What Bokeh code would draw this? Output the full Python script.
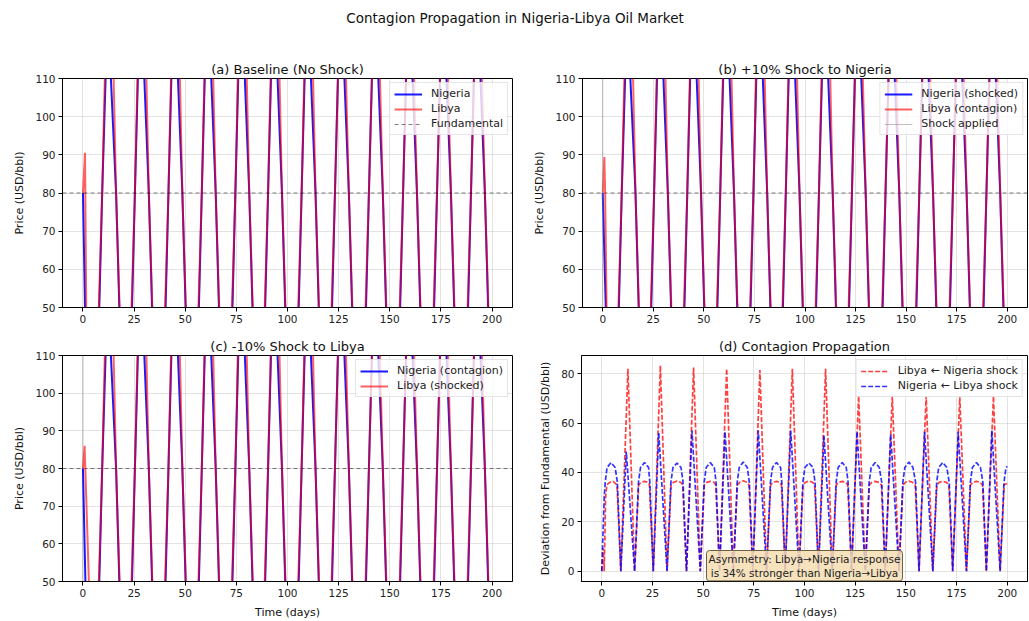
import numpy as np
from bokeh.plotting import figure
from bokeh.layouts import column, row
from bokeh.models import Range1d, Label, FixedTicker
from bokeh.core.properties import value
from bokeh.embed import file_html
from bokeh.resources import INLINE

FONT = "DejaVu Sans"
FUNDAMENTAL = 80.0
SHOCK_DAY = 0.0
X_MIN, X_MAX = -10, 210
P_MIN, P_MAX = 50, 110

main_title = "Contagion Propagation in Nigeria-Libya Oil Market"
panel_titles = ["(a) Baseline (No Shock)", "(b) +10% Shock to Nigeria",
                "(c) -10% Shock to Libya", "(d) Contagion Propagation"]
x_ticks = [0, 25, 50, 75, 100, 125, 150, 175, 200]
price_ticks = [50, 60, 70, 80, 90, 100, 110]
dev_ticks = [0, 20, 40, 60, 80]

# ---- price path vertices (days, USD/bbl), shared cycles ----
cycle_days_libya = [
    7.5, 9.4, 12.9, 16.2, 18.2, 19.4, 21.1, 22.9,
    23.5, 25.4, 28.9, 32.2, 34.2, 35.4, 37.1, 38.9,
    39.9, 41.8, 45.3, 48.6, 50.6, 51.8, 53.5, 55.3,
    56.2, 58.1, 61.6, 64.9, 66.9, 68.1, 69.8, 71.6,
    72.6, 74.5, 78.0, 81.3, 83.3, 84.5, 86.2, 88.0,
    88.6, 90.5, 94.0, 97.3, 99.3, 100.5, 102.2, 104.0,
    105.0, 106.9, 110.4, 113.7, 115.7, 116.9, 118.6, 120.4,
    121.3, 123.2, 126.7, 130.0, 132.0, 133.2, 134.9, 136.7,
    137.9, 139.8, 143.3, 146.6, 148.6, 149.8, 151.5, 153.3,
    154.6, 156.5, 160.0, 163.3, 165.3, 166.5, 168.2, 170.0,
    171.2, 173.1, 176.6, 179.9, 181.9, 183.1, 184.8, 186.6,
    187.8, 189.7, 193.2, 196.5, 198.5, 200.0]
cycle_price_libya = [
    45, 80, 162.0, 80, 45, 44, 43.6, 44,
    45, 80, 163.3, 80, 45, 44, 43.5, 44,
    45, 80, 162.5, 80, 45, 44, 43.6, 44,
    45, 80, 162.0, 80, 45, 44, 43.4, 44,
    45, 80, 161.5, 80, 45, 44, 43.6, 44,
    45, 80, 162.0, 80, 45, 44, 43.5, 44,
    45, 80, 162.0, 80, 45, 44, 43.6, 44,
    45, 80, 151.0, 80, 45, 44, 43.6, 44,
    45, 80, 151.0, 80, 45, 44, 43.5, 44,
    45, 80, 151.0, 80, 45, 44, 43.6, 44,
    45, 80, 150.5, 80, 45, 44, 43.6, 44,
    45, 80, 151.0, 80, 45, 44.5]
cycle_days_nigeria = [
    7.7, 9.4, 12.1, 16.2, 18.1, 19.1, 21.1, 23.1,
    23.7, 25.4, 28.1, 32.2, 34.1, 35.1, 37.1, 39.1,
    40.1, 41.8, 44.5, 48.6, 50.5, 51.5, 53.5, 55.5,
    56.4, 58.1, 60.8, 64.9, 66.8, 67.8, 69.8, 71.8,
    72.8, 74.5, 77.2, 81.3, 83.2, 84.2, 86.2, 88.2,
    88.8, 90.5, 93.2, 97.3, 99.2, 100.2, 102.2, 104.2,
    105.2, 106.9, 109.6, 113.7, 115.6, 116.6, 118.6, 120.6,
    121.5, 123.2, 125.9, 130.0, 131.9, 132.9, 134.9, 136.9,
    138.1, 139.8, 142.5, 146.6, 148.5, 149.5, 151.5, 153.5,
    154.8, 156.5, 159.2, 163.3, 165.2, 166.2, 168.2, 170.2,
    171.4, 173.1, 175.8, 179.9, 181.8, 182.8, 184.8, 186.8,
    188.0, 189.7, 192.4, 196.5, 198.4, 199.4, 200.0]
cycle_price_nigeria = [
    44, 80, 128.5, 80, 44, 38, 36, 38,
    44, 80, 136.0, 80, 44, 38, 36.2, 38,
    44, 80, 137.0, 80, 44, 38, 36, 38,
    44, 80, 136.5, 80, 44, 38, 35.8, 38,
    44, 80, 137.0, 80, 44, 38, 36, 38,
    44, 80, 137.0, 80, 44, 38, 36.2, 38,
    44, 80, 135.0, 80, 44, 38, 36, 38,
    44, 80, 136.5, 80, 44, 38, 36, 38,
    44, 80, 135.5, 80, 44, 38, 35.8, 38,
    44, 80, 136.5, 80, 44, 38, 36, 38,
    44, 80, 136.5, 80, 44, 38, 36, 38,
    44, 80, 137.0, 80, 44, 38, 37.5]

# ---- first days of each scenario (initial response) ----
base_nigeria_days = [0.0, 1.0, 1.6, 2.6, 4.6, 6.6]
base_nigeria_price = [80, 50, 44, 38, 36, 38]
base_libya_days = [0.0, 1.0, 1.6, 2.3, 4.0, 5.6]
base_libya_price = [80, 90.5, 50, 45, 44, 43.6]

shockN_nigeria_days = [0.0, 1.5, 2.0, 2.9, 4.8, 6.6]
shockN_nigeria_price = [80, 50, 44, 38, 36, 38]
shockN_libya_days = [0.0, 0.8, 1.2, 1.9, 2.5, 4.0, 5.6]
shockN_libya_price = [80, 89.4, 80, 50, 45, 44, 43.6]

shockL_nigeria_days = [0.0, 1.2, 1.7, 2.6, 4.6, 6.6]
shockL_nigeria_price = [80, 50, 44, 38, 36, 38]
shockL_libya_days = [0.0, 0.8, 2.9, 3.5, 5.5]
shockL_libya_price = [80, 86, 50, 45, 43.6]

NIGERIA_COLOR = "blue"
LIBYA_COLOR = "red"


def series(init_days, init_price, cyc_days, cyc_price):
    return (np.array(init_days + cyc_days, dtype=float),
            np.array(init_price + cyc_price, dtype=float))


def style(p, yticks, xlabel=None, ylabel=None):
    p.outline_line_color = "black"
    p.outline_line_width = 1
    p.title.text_font = FONT
    p.title.text_font_size = "13px"
    p.title.text_font_style = "normal"
    p.title.align = "center"
    p.title.text_color = "#111111"
    p.title.standoff = 3
    p.xaxis.ticker = FixedTicker(ticks=x_ticks)
    p.yaxis.ticker = FixedTicker(ticks=yticks)
    for ax in (p.xaxis, p.yaxis):
        ax.major_label_text_font = FONT
        ax.major_label_text_font_size = "10.5px"
        ax.major_label_text_color = "#222222"
        ax.axis_label_text_font = FONT
        ax.axis_label_text_font_size = "11px"
        ax.axis_label_text_font_style = "normal"
        ax.axis_label_text_color = "#111111"
        ax.minor_tick_line_color = None
        ax.major_tick_in = 0
        ax.major_tick_out = 4
        ax.axis_line_color = "black"
        ax.major_label_standoff = 3
        ax.axis_label_standoff = 6
    if xlabel:
        p.xaxis.axis_label = xlabel
    if ylabel:
        p.yaxis.axis_label = ylabel
    p.grid.grid_line_color = "#b0b0b0"
    p.grid.grid_line_alpha = 0.35


def style_legend(p):
    lg = p.legend[0]
    lg.location = "top_right"
    lg.label_text_font = FONT
    lg.label_text_font_size = "11px"
    lg.label_text_color = "#222222"
    lg.glyph_width = 28
    lg.glyph_height = 12
    lg.label_height = 12
    lg.spacing = 2
    lg.padding = 4
    lg.margin = 4
    lg.label_standoff = 9
    lg.background_fill_alpha = 0.8
    lg.border_line_color = "#cccccc"


def price_fig(title, width, height, bl, br, bt, bb, xlabel=None):
    p = figure(width=width, height=height, x_range=Range1d(X_MIN, X_MAX),
               y_range=Range1d(P_MIN, P_MAX), output_backend="svg",
               toolbar_location=None, title=title,
               min_border_left=bl, min_border_right=br,
               min_border_top=bt, min_border_bottom=bb)
    style(p, price_ticks, xlabel=xlabel, ylabel="Price (USD/bbl)")
    return p


def fundamental_line(p, legend=None):
    kw = dict(line_color="black", line_alpha=0.5, line_dash="4 3", line_width=1)
    if legend:
        kw["legend_label"] = legend
    p.line(x=[X_MIN, X_MAX], y=[FUNDAMENTAL, FUNDAMENTAL], **kw)


def shock_line(p, legend=None):
    kw = dict(line_color="gray", line_alpha=0.5, line_width=1)
    if legend:
        kw["legend_label"] = legend
    p.line(x=[SHOCK_DAY, SHOCK_DAY], y=[P_MIN, P_MAX], **kw)


def price_pair(p, tn, yn, tl, yl, lab_n, lab_l):
    p.line(tn, yn, line_color=NIGERIA_COLOR, line_width=2, line_alpha=0.9, legend_label=lab_n)
    p.line(tl, yl, line_color=LIBYA_COLOR, line_width=2, line_alpha=0.62, legend_label=lab_l)


# (a)
pa = price_fig(panel_titles[0], 530, 282, 62, 18, 28, 25)
tN, yN = series(base_nigeria_days, base_nigeria_price, cycle_days_nigeria, cycle_price_nigeria)
tL, yL = series(base_libya_days, base_libya_price, cycle_days_libya, cycle_price_libya)
price_pair(pa, tN, yN, tL, yL, "Nigeria", "Libya")
fundamental_line(pa, "Fundamental")
style_legend(pa)

# (b)
pb = price_fig(panel_titles[1], 499, 282, 51, 2, 28, 25)
fundamental_line(pb)
tNb, yNb = series(shockN_nigeria_days, shockN_nigeria_price, cycle_days_nigeria, cycle_price_nigeria)
tLb, yLb = series(shockN_libya_days, shockN_libya_price, cycle_days_libya, cycle_price_libya)
price_pair(pb, tNb, yNb, tLb, yLb, "Nigeria (shocked)", "Libya (contagion)")
shock_line(pb, "Shock applied")
style_legend(pb)

# (c)
pc = price_fig(panel_titles[2], 530, 289, 62, 18, 23, 36, xlabel="Time (days)")
fundamental_line(pc)
shock_line(pc)
tNc, yNc = series(shockL_nigeria_days, shockL_nigeria_price, cycle_days_nigeria, cycle_price_nigeria)
tLc, yLc = series(shockL_libya_days, shockL_libya_price, cycle_days_libya, cycle_price_libya)
price_pair(pc, tNc, yNc, tLc, yLc, "Nigeria (contagion)", "Libya (shocked)")
style_legend(pc)

# (d) deviation from fundamental
pd_ = figure(width=499, height=289, x_range=Range1d(X_MIN, X_MAX), y_range=Range1d(-4.2, 87.4),
             output_backend="svg", toolbar_location=None, title=panel_titles[3],
             min_border_left=51, min_border_right=2, min_border_top=23, min_border_bottom=36)
style(pd_, dev_ticks, xlabel="Time (days)", ylabel="Deviation from Fundamental (USD/bbl)")
pd_.line(tLb, np.abs(yLb - FUNDAMENTAL), line_color=LIBYA_COLOR, line_width=1.7, line_alpha=0.75,
         line_dash="5 2", legend_label="Libya \u2190 Nigeria shock")
pd_.line(tNc, np.abs(yNc - FUNDAMENTAL), line_color=NIGERIA_COLOR, line_width=1.7, line_alpha=0.8,
         line_dash="5 2", legend_label="Nigeria \u2190 Libya shock")
style_legend(pd_)
note = Label(x=100, y=2.2, x_units="data", y_units="data",
             text="Asymmetry: Libya\u2192Nigeria response\nis 34% stronger than Nigeria\u2192Libya",
             text_align="center", text_baseline="middle",
             text_font=FONT, text_font_size="10.5px", text_color="#222222",
             background_fill_color="wheat", background_fill_alpha=0.85,
             border_line_color="#6b6040", border_line_width=1,
             padding=2, border_radius=3)
pd_.add_layout(note)

# main title
tf = figure(width=1029, height=50, x_range=Range1d(0, 1), y_range=Range1d(0, 1),
            output_backend="svg", toolbar_location=None,
            x_axis_location=None, y_axis_location=None, min_border=0)
tf.grid.visible = False
tf.outline_line_color = None
tf.text(x=[0.5], y=[0.65], text=[main_title], text_align="center", text_baseline="middle",
        text_font=value(FONT), text_font_size="13.5px", text_color="#111111")

layout = column(tf, row(pa, pb), row(pc, pd_))
open("out.html", "w").write(file_html(layout, INLINE))
